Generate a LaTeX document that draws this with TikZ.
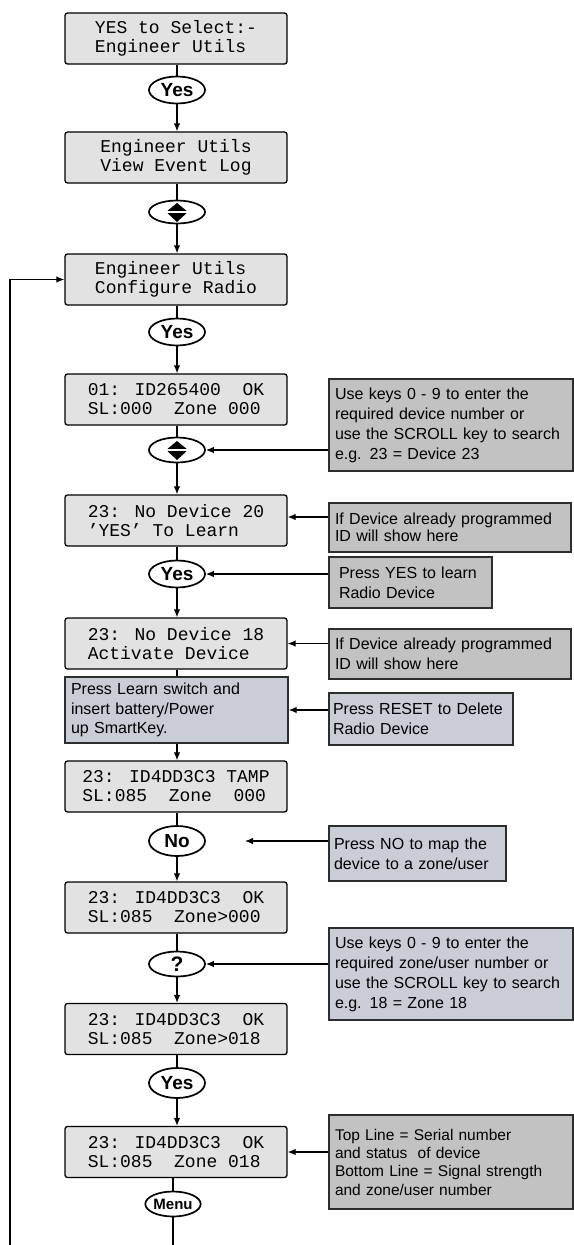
\documentclass[tikz,border=0pt]{standalone}
\usepackage{fontspec}
\setmainfont{Liberation Sans}
\setsansfont{Liberation Sans}
\newfontfamily\lcdfont{Liberation Mono}
\usepackage{tikz}
\usetikzlibrary{arrows.meta,calc,positioning,shapes.geometric}
\definecolor{lcdgray}{RGB}{226,226,226}
\definecolor{notegray}{RGB}{194,194,194}
\definecolor{noteblue}{RGB}{201,205,214}
\definecolor{edgegray}{RGB}{45,45,45}
% up/down scroll key glyph inside an oval node
\newcommand{\scrollglyph}[1]{%
  \fill ($(#1)+(0,-9)$) -- ($(#1)+(-9.5,-1.2)$) -- ($(#1)+(9.5,-1.2)$) -- cycle;
  \fill ($(#1)+(0,10)$) -- ($(#1)+(-9.5,1.2)$) -- ($(#1)+(9.5,1.2)$) -- cycle;}

\begin{document}
\begin{tikzpicture}[x=1pt,y=-1pt,>={Latex[length=8pt,width=6.5pt]},line width=1.2pt,
  lcd/.style={draw=black,line width=1.3pt,rounded corners=2.5pt,fill=lcdgray,minimum width=222pt,minimum height=51pt,align=left,inner sep=0pt,font=\lcdfont\fontsize{18}{19}\selectfont},
  key/.style={draw,ellipse,line width=1.7pt,fill=white,minimum width=56pt,minimum height=27pt,inner sep=0pt,font=\sffamily\bfseries\fontsize{19}{19}\selectfont},
  note/.style={draw=edgegray,line width=1.4pt,fill=notegray,align=left,inner xsep=6pt,inner ysep=0pt,font=\fontsize{16}{20}\selectfont}]
  \useasboundingbox (0,0) rectangle (573,1245);

  % main column
  \node[lcd] (sel) at (176,38.5) {YES to Select:-\\Engineer Utils};
  \node[key] (yes1) at (177,90) {Yes};
  \node[lcd] (log) at (176,157.5) {Engineer Utils\\View Event Log};
  \node[key,minimum height=23pt] (scr1) at (177,212) {};
  \node[lcd] (radio) at (176,279.5) {Engineer Utils\\Configure Radio};
  \node[key] (yes2) at (177,332) {Yes};
  \node[lcd] (dev01) at (176,399.5) {01: ID265400~ OK\\SL:000~ Zone 000};
  \node[key,minimum height=25pt] (scr2) at (177,450) {};
  \node[lcd] (dev20) at (176,520.5) {23: No Device 20\\’YES’ To Learn};
  \node[key] (yes3) at (177,574) {Yes};
  \node[lcd] (dev18) at (176,643.5) {23: No Device 18\\Activate Device};
  \node[draw=edgegray,line width=1.4pt,fill=noteblue,minimum height=66pt,text width=211pt,inner xsep=6pt,align=left,font=\fontsize{16}{19.5}\selectfont] (learn) at (176.5,710) {Press Learn switch and\\insert battery/Power\\up SmartKey.};
  \node[lcd] (tamp) at (176,786.5) {23: ID4DD3C3 TAMP\\SL:085~ Zone~ 000};
  \node[key,minimum height=30pt] (no) at (177,841) {No};
  \node[lcd] (zone0) at (176,907.5) {23: ID4DD3C3~ OK\\SL:085~ Zone>000};
  \node[key,minimum height=25pt,font=\sffamily\bfseries\fontsize{21}{21}\selectfont] (ask) at (177,964) {?};
  \node[lcd] (zone18) at (176,1029) {23: ID4DD3C3~ OK\\SL:085~ Zone>018};
  \node[key,minimum height=30pt] (yes4) at (177,1083) {Yes};
  \node[lcd] (done) at (176,1152) {23: ID4DD3C3~ OK\\SL:085~ Zone 018};
  \node[key,minimum width=48pt,minimum height=25pt,font=\sffamily\bfseries\fontsize{15}{15}\selectfont] (menu) at (173,1204) {Menu};
  \coordinate (menuend) at (173,1245);
  \coordinate (loopend) at (10,1245);
  \scrollglyph{scr1}
  \scrollglyph{scr2}

  % notes on the right
  \node[note,text width=232pt,minimum height=92pt] (n1) at (451,425) {Use keys 0 - 9 to enter the\\required device number or\\use the SCROLL key to search\\e.g. 23 = Device 23};
  \node[note,text width=230pt,minimum height=49pt,font=\fontsize{16}{17}\selectfont] (n2) at (450,527.5) {If Device already programmed\\ ID will show here};
  \node[note,text width=143pt,inner xsep=10pt,minimum height=51pt] (n3) at (410.5,582.5) {Press YES to learn\\Radio Device};
  \node[note,text width=230pt,minimum height=50pt] (n4) at (450,654) {If Device already programmed\\ID will show here};
  \node[note,fill=noteblue,text width=176pt,inner xsep=4pt,minimum height=52pt] (n5) at (421,719) {Press RESET to Delete\\Radio Device};
  \node[note,fill=noteblue,text width=167pt,inner xsep=5pt,minimum height=55pt] (n6) at (417.5,853.5) {Press NO to map the\\device to a zone/user};
  \node[note,fill=noteblue,text width=232pt,minimum height=92pt] (n7) at (451,974) {Use keys 0 - 9 to enter the\\required zone/user number or\\use the SCROLL key to search\\e.g. 18 = Zone 18};
  \node[note,text width=232pt,minimum height=94pt,font=\fontsize{15.5}{18}\selectfont] (n8) at (451,1162) {Top Line = Serial number\\and status~ of device\\Bottom Line = Signal strength\\[1pt]and zone/user number};
  \coordinate (nopoint) at (245,841);

  % flow
  \draw (sel.south -| yes1) -- (yes1);
  \draw[->] (yes1) -- (log.north -| yes1);
  \draw (log.south -| scr1) -- (scr1);
  \draw[->] (scr1) -- (radio.north -| scr1);
  \draw (radio.south -| yes2) -- (yes2);
  \draw[->] (yes2) -- (dev01.north -| yes2);
  \draw (dev01.south -| scr2) -- (scr2);
  \draw[->] (scr2) -- (dev20.north -| scr2);
  \draw (dev20.south -| yes3) -- (yes3);
  \draw[->] (yes3) -- (dev18.north -| yes3);
  \draw (dev18.south -| yes3) -- (learn.north -| yes3);
  \draw[->] (learn.south -| no) -- (tamp.north -| no);
  \draw (tamp.south -| no) -- (no);
  \draw[->] (no) -- (zone0.north -| no);
  \draw (zone0.south -| ask) -- (ask);
  \draw[->] (ask) -- (zone18.north -| ask);
  \draw (zone18.south -| yes4) -- (yes4);
  \draw[->] (yes4) -- (done.north -| yes4);
  \draw (done.south -| menu) -- (menu);
  \draw (menu) -- (menuend);
  \draw[->] (loopend) |- (radio.west);

  % notes to column
  \draw[->] (n1.west |- scr2.east) -- (scr2.east);
  \draw[->] (n2.west |- 0,517) -- (dev20.east |- 0,517);
  \draw[->] (n3.west |- yes3.east) -- (yes3.east);
  \draw[->] (n4.west |- dev18.east) -- (dev18.east);
  \draw[->] (n5.west |- learn.east) -- (learn.east);
  \draw[->] (n6.west |- nopoint) -- (nopoint);
  \draw[->] (n7.west |- ask.east) -- (ask.east);
  \draw[->] (n8.west |- done.east) -- (done.east);
\end{tikzpicture}
\end{document}
